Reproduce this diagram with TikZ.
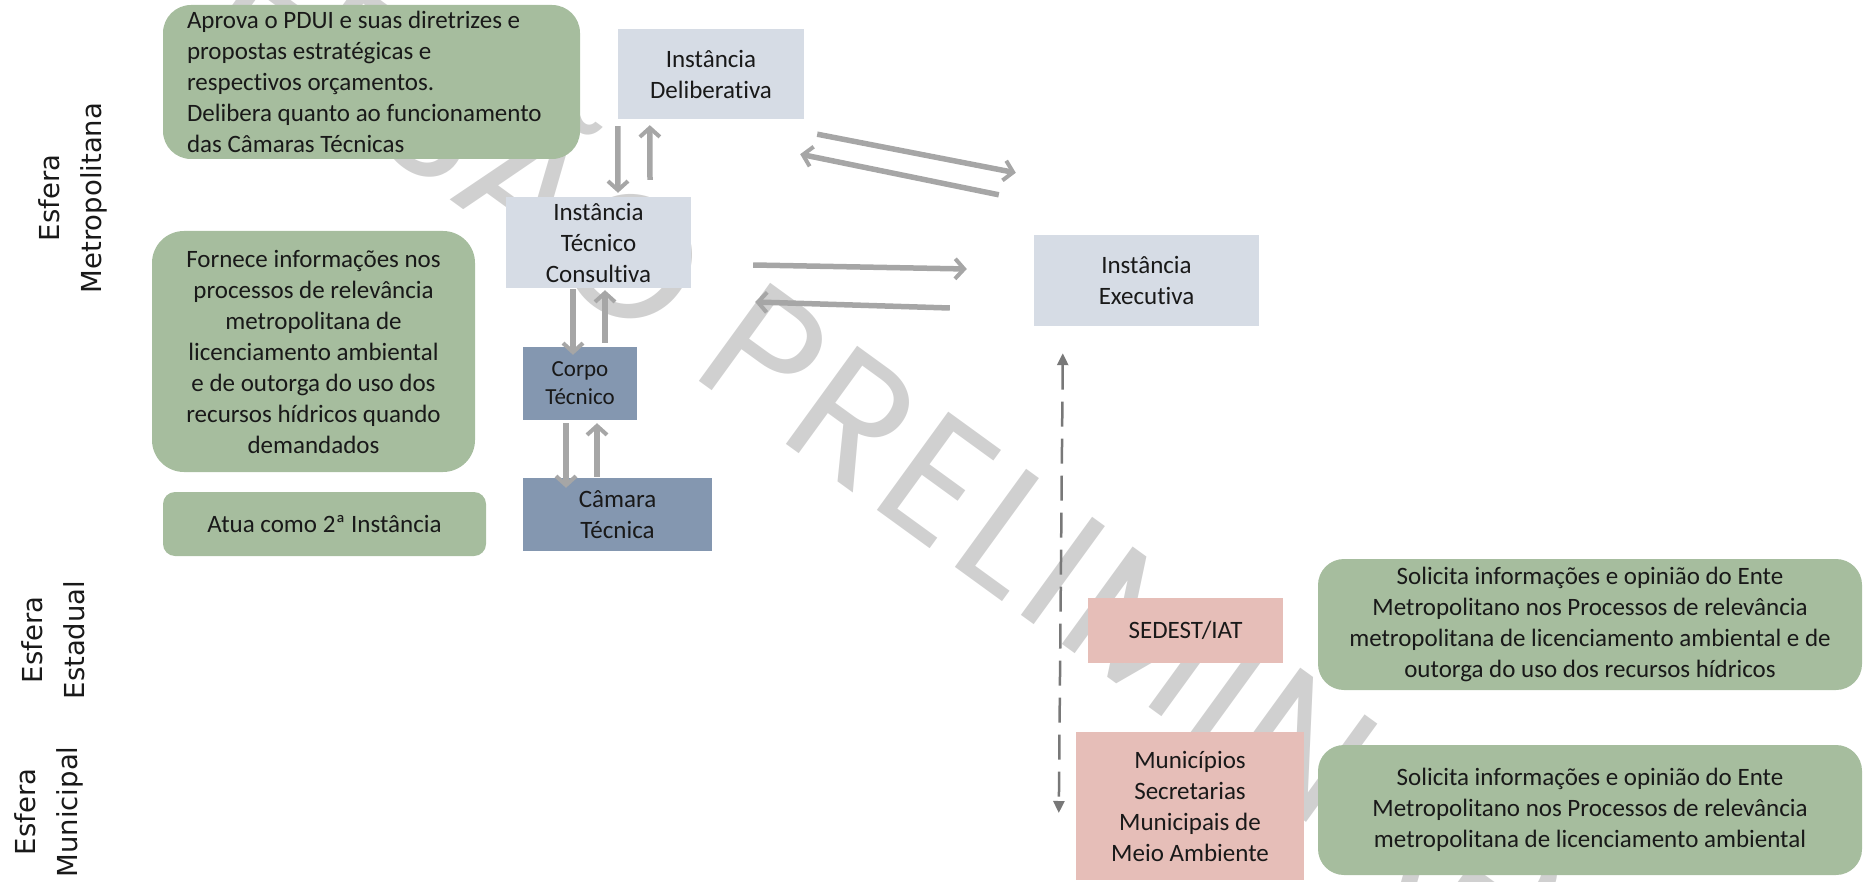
\documentclass[tikz,border=0pt]{standalone}
\usepackage{fontspec}
\setmainfont{Carlito}[Ligatures={NoCommon}]
\newfontfamily\sidefont{DejaVu Sans}
\newfontfamily\wmfont{Poppins}
\newfontfamily\wmspaced{Poppins}[LetterSpace=4]
\usetikzlibrary{arrows.meta,calc}

\definecolor{boxgreen}{RGB}{166,189,158}
\definecolor{boxpale}{RGB}{214,220,229}
\definecolor{boxslate}{RGB}{132,151,176}
\definecolor{boxrose}{RGB}{230,190,184}
\definecolor{arrowgrey}{RGB}{166,166,166}
\definecolor{dashgrey}{RGB}{120,120,120}
\definecolor{wmgrey}{RGB}{208,208,208}
\definecolor{ink}{RGB}{25,25,25}

\tikzset{
  txt/.style={font=\fontsize{25}{31}\selectfont, text=ink, align=center, inner sep=0pt},
  greenbox/.style={txt, fill=boxgreen, rounded corners=28pt},
  palebox/.style={txt, fill=boxpale},
  slatebox/.style={txt, fill=boxslate},
  rosebox/.style={txt, fill=boxrose},
  flow/.style={draw=arrowgrey, line width=5.5pt,
    -{Straight Barb[length=9pt,width=20pt,line width=4pt]}},
  link/.style={draw=dashgrey, line width=2.5pt, dash pattern=on 25pt off 12pt,
    {Triangle[length=12pt,width=11pt]}-{Triangle[length=12pt,width=11pt]}},
  sphere/.style={font=\sidefont\fontsize{27.5}{42}\selectfont, text=ink,
    align=center, rotate=90, inner sep=0pt},
  watermark/.style={font=\fontsize{174}{174}\selectfont, text=wmgrey,
    rotate=-36, anchor=base west, inner sep=0pt},
}

\begin{document}
\begin{tikzpicture}[x=1pt,y=-1pt]
\useasboundingbox (0,0) rectangle (1867,882);
\clip (0,0) rectangle (1867,882);

% background stamp
\node[watermark] (mark) at (688,373) {\llap{\wmfont VERSÃO\ }\wmspaced PRELIMINAR};

% sphere labels
\node[sphere] (metro) at (73,198) {Esfera\\Metropolitana};
\node[sphere] (state) at (53,640) {Esfera\\Estadual};
\node[sphere] (city)  at (49,812) {Esfera\\Municipal};

% role descriptions
\node[greenbox, align=flush left, text width=369pt, minimum width=417pt, minimum height=154pt] (g1) at (371.5,82)
  {Aprova o PDUI e suas diretrizes e\\propostas estratégicas e\\respectivos orçamentos.\\Delibera quanto ao funcionamento\\das Câmaras Técnicas};
\node[greenbox, rounded corners=32pt, minimum width=323pt, minimum height=241pt] (g2) at (313.5,351.5)
  {Fornece informações nos\\processos de relevância\\metropolitana de\\licenciamento ambiental\\e de outorga do uso dos\\recursos hídricos quando\\demandados};
\node[greenbox, rounded corners=12pt, minimum width=323pt, minimum height=64pt] (g3) at (324.5,524)
  {Atua como 2ª Instância};
\node[greenbox, rounded corners=26pt, minimum width=544pt, minimum height=131pt] (r1) at (1590,624.5)
  {Solicita informações e opinião do Ente\\Metropolitano nos Processos de relevância\\metropolitana de licenciamento ambiental e de\\outorga do uso dos recursos hídricos};
\node[greenbox, rounded corners=26pt, minimum width=544pt, minimum height=130pt] (r2) at (1590,810)
  {Solicita informações e opinião do Ente\\Metropolitano nos Processos de relevância\\metropolitana de licenciamento ambiental};

% instances
\node[palebox, minimum width=186pt, minimum height=90pt] (delib) at (711,74) {Instância\\Deliberativa};
\node[palebox, minimum width=185pt, minimum height=91pt] (consult) at (598.5,242.5) {Instância\\Técnico\\Consultiva};
\node[palebox, minimum width=225pt, minimum height=91pt] (exec) at (1146.5,280.5) {Instância\\Executiva};
\node[slatebox, font=\fontsize{23}{28}\selectfont, minimum width=114pt, minimum height=73pt] (corpo) at (580,383.5) {Corpo\\Técnico};
\node[slatebox, minimum width=189pt, minimum height=73pt] (camara) at (617.5,514.5) {Câmara\\Técnica};
\node[rosebox, minimum width=195pt, minimum height=65pt] (sedest) at (1185.5,630.5) {SEDEST/IAT};
\node[rosebox, minimum width=228pt, minimum height=148pt] (munic) at (1190,806) {Municípios\\Secretarias\\Municipais de\\Meio Ambiente};

% vertical exchanges
\draw[flow] ($(delib.south west)+(0,7)$) -- ($(consult.north)+(19.5,-4)$);
\draw[flow] ($(consult.north)+(51.5,-17)$) -- ($(delib.south west)+(32,6)$);
\draw[flow] ($(consult.south)+(-25.5,1)$) -- ($(corpo.north)+(-7,8)$);
\draw[flow] ($(corpo.north)+(25,-4)$) -- ($(consult.south)+(6.5,2)$);
\draw[flow] ($(corpo.south)+(-14,3)$) -- ($(camara.north)+(-51.5,10)$);
\draw[flow] ($(camara.north)+(-20.5,-1)$) -- ($(corpo.south)+(17,3)$);

% exchanges with the executive instance
\draw[flow] ($(delib.south east)+(13,15)$) -- ($(exec.north west)+(-18,-62)$);
\draw[flow] ($(exec.north west)+(-35,-40)$) -- ($(delib.south east)+(-4,35)$);
\draw[flow] ($(consult.east)+(62,22.5)$) -- ($(exec.west)+(-67,-11.5)$);
\draw[flow] ($(exec.west)+(-84,27.5)$) -- ($(consult.east)+(64,59.5)$);

% link down to state and municipal spheres
\draw[link] ($(exec.south west)+(29,27)$) -- ($(munic.west)+(-17,7)$);
\end{tikzpicture}
\end{document}
